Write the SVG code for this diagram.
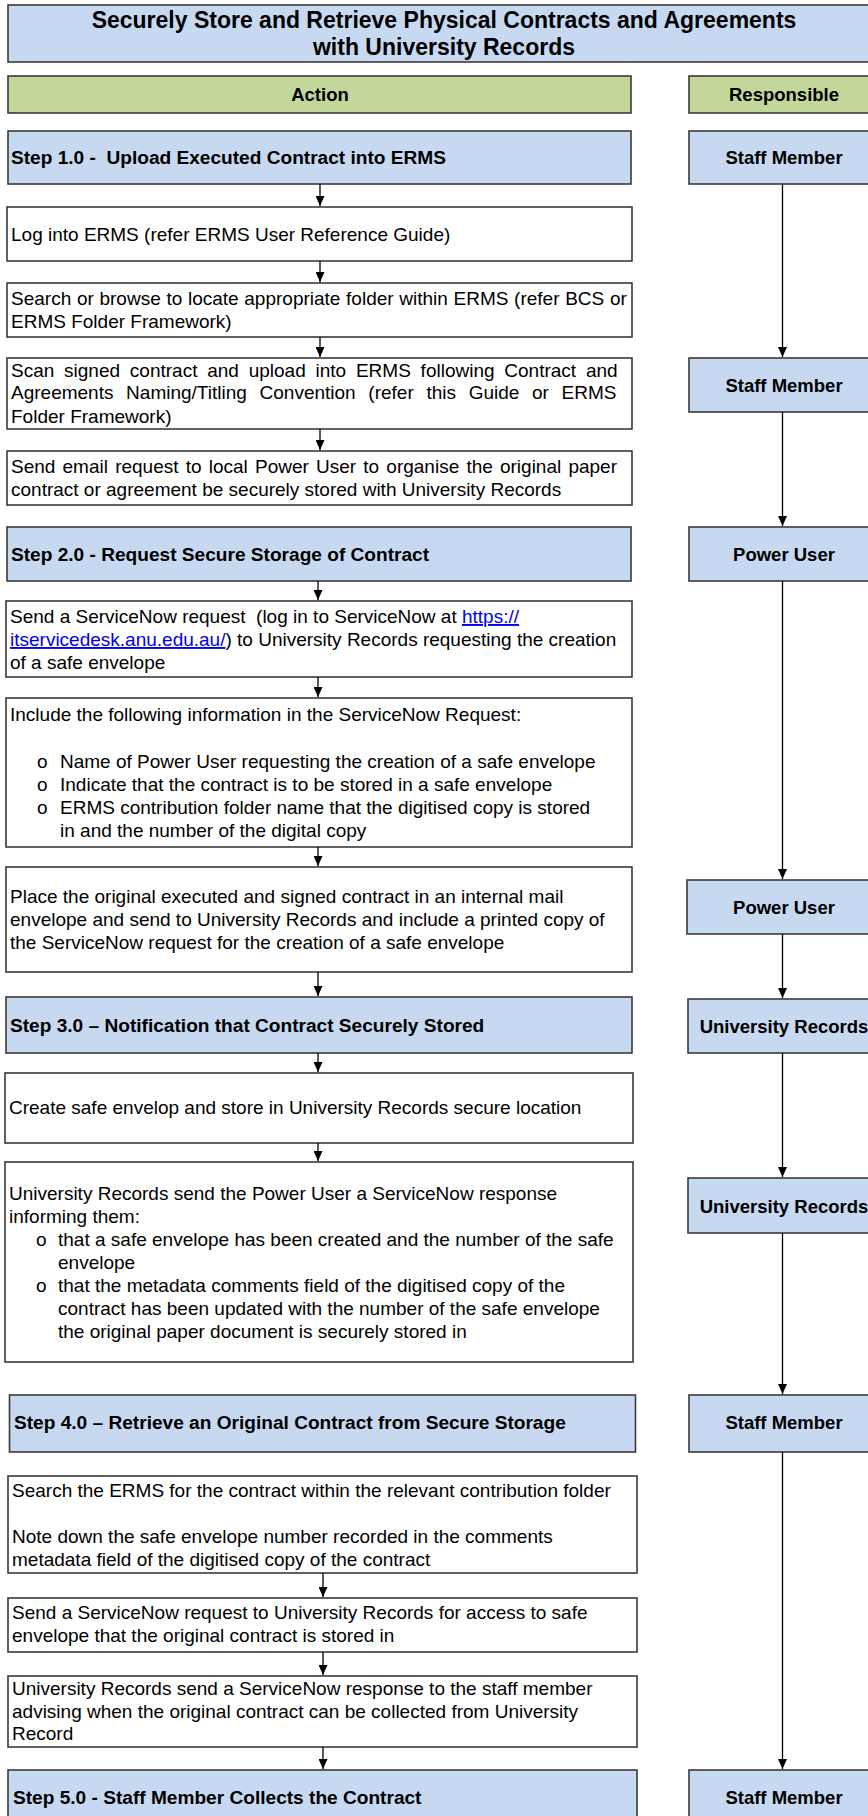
<svg xmlns="http://www.w3.org/2000/svg" width="868" height="1816" viewBox="0 0 868 1816">
<style>
text{font-family:"Liberation Sans",Arial,sans-serif;fill:#000}
.t{font-size:23px;font-weight:bold;text-anchor:middle}
.h{font-size:18.5px;font-weight:bold}
.s{font-size:19.1px;font-weight:bold}
.c{text-anchor:middle}
.b{font-size:19px}
.blue{fill:#c6d9f1;stroke:#3a3a3a;stroke-width:1.6}
.green{fill:#c4d79b;stroke:#3a3a3a;stroke-width:1.6}
.white{fill:#fff;stroke:#3a3a3a;stroke-width:1.6}
.ln{stroke:#000;stroke-width:1.3;fill:none;marker-end:url(#ah)}
.lk{fill:#0000ee;text-decoration:underline}
</style>
<defs>
<marker id="ah" viewBox="0 0 10 9" refX="10" refY="4.5" markerWidth="10" markerHeight="9" markerUnits="userSpaceOnUse" orient="auto">
<path d="M0,0 L10,4.5 L0,9 z" fill="#000"/>
</marker>
</defs>

<g id="title">
<rect class="blue" x="8" y="5" width="880" height="57"/>
<text class="t" x="444" y="28">Securely Store and Retrieve Physical Contracts and Agreements</text>
<text class="t" x="444" y="55">with University Records</text>
</g>

<g id="hdr-action"><rect class="green" x="8" y="76" width="623" height="37"/><text class="h c" x="320" y="101">Action</text></g>
<g id="hdr-resp"><rect class="green" x="689" y="76" width="190" height="37"/><text class="h c" x="784" y="101">Responsible</text></g>

<g id="step1"><rect class="blue" x="8" y="131" width="623" height="53"/><text class="s" x="11" y="164" xml:space="preserve">Step 1.0 -  Upload Executed Contract into ERMS</text></g>
<g id="sm1"><rect class="blue" x="689" y="131" width="190" height="53"/><text class="h c" x="784" y="164">Staff Member</text></g>

<g id="log"><rect class="white" x="7" y="207" width="625" height="54"/><text class="b" x="11" y="240.5">Log into ERMS (refer ERMS User Reference Guide)</text></g>

<g id="search"><rect class="white" x="7" y="283" width="625" height="54"/>
<text class="b" x="11" y="305" word-spacing="0.4">Search or browse to locate appropriate folder within ERMS (refer BCS or</text>
<text class="b" x="11" y="327.5">ERMS Folder Framework)</text></g>

<g id="scan"><rect class="white" x="7" y="358" width="625" height="71"/>
<text class="b" x="11" y="376.5" word-spacing="4.5">Scan signed contract and upload into ERMS following Contract and</text>
<text class="b" x="11" y="399" word-spacing="7.4">Agreements Naming/Titling Convention (refer this Guide or ERMS</text>
<text class="b" x="11" y="422.5">Folder Framework)</text></g>
<g id="sm2"><rect class="blue" x="689" y="358" width="190" height="54"/><text class="h c" x="784" y="391.5">Staff Member</text></g>

<g id="email"><rect class="white" x="7" y="451" width="625" height="54"/>
<text class="b" x="11" y="473" word-spacing="1.9">Send email request to local Power User to organise the original paper</text>
<text class="b" x="11" y="495.5">contract or agreement be securely stored with University Records</text></g>

<g id="step2"><rect class="blue" x="7" y="527" width="624" height="54"/><text class="s" x="11" y="560.5">Step 2.0 - Request Secure Storage of Contract</text></g>
<g id="pu1"><rect class="blue" x="689" y="527" width="190" height="54"/><text class="h c" x="784" y="560.5">Power User</text></g>

<g id="sn"><rect class="white" x="6" y="601" width="626" height="76"/>
<text class="b" x="10" y="623" xml:space="preserve">Send a ServiceNow request  (log in to ServiceNow at <tspan class="lk">https://</tspan></text>
<text class="b" x="10" y="646"><tspan class="lk">itservicedesk.anu.edu.au/</tspan>) to University Records requesting the creation</text>
<text class="b" x="10" y="668.5">of a safe envelope</text></g>

<g id="include"><rect class="white" x="6" y="698" width="626" height="149"/>
<text class="b" x="10" y="720.5">Include the following information in the ServiceNow Request:</text>
<text class="b" x="37" y="767.5">o</text><text class="b" x="60" y="767.5">Name of Power User requesting the creation of a safe envelope</text>
<text class="b" x="37" y="790.5">o</text><text class="b" x="60" y="790.5">Indicate that the contract is to be stored in a safe envelope</text>
<text class="b" x="37" y="813.5">o</text><text class="b" x="60" y="813.5">ERMS contribution folder name that the digitised copy is stored</text>
<text class="b" x="60" y="836.5">in and the number of the digital copy</text></g>

<g id="place"><rect class="white" x="6" y="867" width="626" height="105"/>
<text class="b" x="10" y="902.5">Place the original executed and signed contract in an internal mail</text>
<text class="b" x="10" y="925.5">envelope and send to University Records and include a printed copy of</text>
<text class="b" x="10" y="948.5">the ServiceNow request for the creation of a safe envelope</text></g>
<g id="pu2"><rect class="blue" x="687" y="880" width="192" height="54"/><text class="h c" x="784" y="913.5">Power User</text></g>

<g id="step3"><rect class="blue" x="6" y="997" width="626" height="56"/><text class="s" x="10" y="1031.5">Step 3.0 – Notification that Contract Securely Stored</text></g>
<g id="ur1"><rect class="blue" x="688" y="999" width="191" height="54"/><text class="h c" x="784" y="1032.5">University Records</text></g>

<g id="create"><rect class="white" x="5" y="1073" width="628" height="70"/>
<text class="b" x="9" y="1114">Create safe envelop and store in University Records secure location</text></g>

<g id="notify"><rect class="white" x="5" y="1162" width="628" height="200"/>
<text class="b" x="9" y="1200">University Records send the Power User a ServiceNow response</text>
<text class="b" x="9" y="1223">informing them:</text>
<text class="b" x="36" y="1246">o</text><text class="b" x="58" y="1246">that a safe envelope has been created and the number of the safe</text>
<text class="b" x="58" y="1269">envelope</text>
<text class="b" x="36" y="1292">o</text><text class="b" x="58" y="1292">that the metadata comments field of the digitised copy of the</text>
<text class="b" x="58" y="1315">contract has been updated with the number of the safe envelope</text>
<text class="b" x="58" y="1338">the original paper document is securely stored in</text></g>
<g id="ur2"><rect class="blue" x="688" y="1178" width="191" height="55"/><text class="h c" x="784" y="1213">University Records</text></g>

<g id="step4"><rect class="blue" x="9.5" y="1395" width="626" height="57"/><text class="s" x="14" y="1429">Step 4.0 – Retrieve an Original Contract from Secure Storage</text></g>
<g id="sm3"><rect class="blue" x="689" y="1395" width="190" height="57"/><text class="h c" x="784" y="1429">Staff Member</text></g>

<g id="searchERMS"><rect class="white" x="8" y="1476" width="629" height="97"/>
<text class="b" x="12" y="1496.5">Search the ERMS for the contract within the relevant contribution folder</text>
<text class="b" x="12" y="1542.5">Note down the safe envelope number recorded in the comments</text>
<text class="b" x="12" y="1565.5">metadata field of the digitised copy of the contract</text></g>

<g id="access"><rect class="white" x="8" y="1598" width="629" height="54"/>
<text class="b" x="12" y="1619">Send a ServiceNow request to University Records for access to safe</text>
<text class="b" x="12" y="1642">envelope that the original contract is stored in</text></g>

<g id="advise"><rect class="white" x="8" y="1676" width="629" height="71"/>
<text class="b" x="12" y="1695">University Records send a ServiceNow response to the staff member</text>
<text class="b" x="12" y="1717.5">advising when the original contract can be collected from University</text>
<text class="b" x="12" y="1740">Record</text></g>

<g id="step5"><rect class="blue" x="8" y="1770" width="629" height="60"/><text class="s" x="13" y="1804">Step 5.0 - Staff Member Collects the Contract</text></g>
<g id="sm4"><rect class="blue" x="689" y="1770" width="190" height="60"/><text class="h c" x="784" y="1804">Staff Member</text></g>

<g id="connectors">
<line class="ln" x1="320" y1="184" x2="320" y2="206"/>
<line class="ln" x1="320" y1="261" x2="320" y2="282"/>
<line class="ln" x1="320" y1="337" x2="320" y2="357"/>
<line class="ln" x1="320" y1="429" x2="320" y2="450"/>
<line class="ln" x1="318" y1="581" x2="318" y2="600"/>
<line class="ln" x1="318" y1="677" x2="318" y2="697"/>
<line class="ln" x1="318" y1="847" x2="318" y2="866"/>
<line class="ln" x1="318" y1="972" x2="318" y2="996"/>
<line class="ln" x1="318" y1="1053" x2="318" y2="1072"/>
<line class="ln" x1="318" y1="1143" x2="318" y2="1161"/>
<line class="ln" x1="323" y1="1573" x2="323" y2="1597"/>
<line class="ln" x1="323" y1="1652" x2="323" y2="1675"/>
<line class="ln" x1="323" y1="1747" x2="323" y2="1769"/>
<line class="ln" x1="782.5" y1="184" x2="782.5" y2="357"/>
<line class="ln" x1="782.5" y1="412" x2="782.5" y2="526"/>
<line class="ln" x1="782.5" y1="581" x2="782.5" y2="879"/>
<line class="ln" x1="782.5" y1="934" x2="782.5" y2="998"/>
<line class="ln" x1="782.5" y1="1053" x2="782.5" y2="1177"/>
<line class="ln" x1="782.5" y1="1233" x2="782.5" y2="1394"/>
<line class="ln" x1="782.5" y1="1452" x2="782.5" y2="1769"/>
</g>
</svg>
